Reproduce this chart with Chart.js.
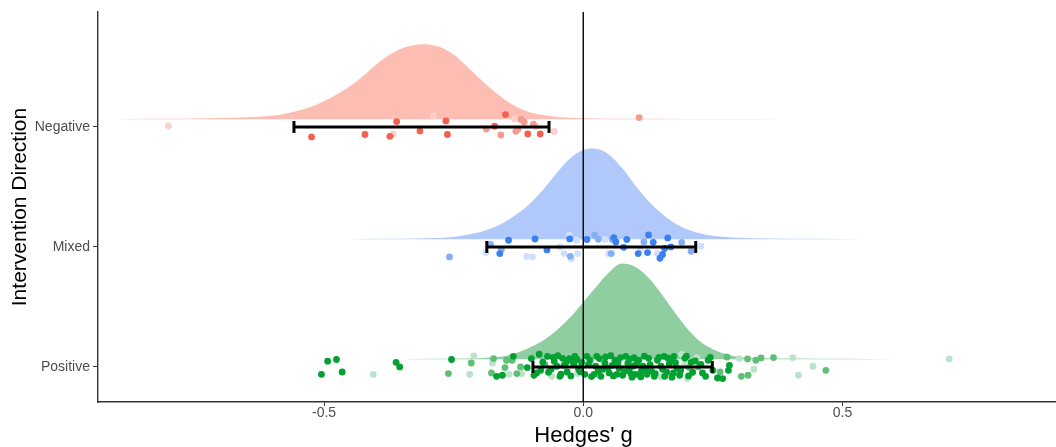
<!DOCTYPE html>
<html>
<head>
<meta charset="utf-8">
<script src="https://cdn.jsdelivr.net/npm/chart.js@4"></script>
<style>
  html, body { margin: 0; padding: 0; background: #ffffff; overflow: hidden; }
  #wrap { width: 1078px; height: 447px; }
  canvas { display: block; }
</style>
</head>
<body>
<div id="wrap"><canvas id="chart" width="1078" height="447"></canvas></div>
<script>
// Groups on the vertical axis (bottom to top): Positive = 1, Mixed = 2, Negative = 3
const categories = ['Positive', 'Mixed', 'Negative'];
const xTickValues = [-0.5, 0, 0.5];

// Density curves of Hedges' g for each group (x, height)
const negDensX = [-0.90, -0.85, -0.80, -0.75, -0.70, -0.65, -0.60, -0.575, -0.55, -0.525, -0.50, -0.475, -0.45, -0.425, -0.40, -0.375, -0.35, -0.325, -0.31, -0.30, -0.275, -0.25, -0.225, -0.20, -0.175, -0.15, -0.125, -0.10, -0.075, -0.05, -0.025, 0.00, 0.05, 0.10, 0.20, 0.30, 0.38];
const negDensH = [0, 0.003, 0.004, 0.006, 0.009, 0.016, 0.029, 0.046, 0.071, 0.104, 0.150, 0.208, 0.275, 0.358, 0.454, 0.533, 0.588, 0.617, 0.625, 0.623, 0.600, 0.538, 0.442, 0.338, 0.242, 0.158, 0.096, 0.054, 0.033, 0.018, 0.011, 0.007, 0.004, 0.003, 0.0015, 0.001, 0];

const mixDensX = [-0.45, -0.40, -0.35, -0.30, -0.25, -0.225, -0.20, -0.175, -0.15, -0.125, -0.10, -0.075, -0.05, -0.025, 0.00, 0.015, 0.025, 0.05, 0.075, 0.10, 0.125, 0.15, 0.175, 0.20, 0.225, 0.25, 0.30, 0.35, 0.45, 0.55];
const mixDensH = [0, 0.0025, 0.004, 0.007, 0.017, 0.0375, 0.058, 0.096, 0.146, 0.217, 0.308, 0.425, 0.558, 0.675, 0.742, 0.756, 0.753, 0.704, 0.592, 0.450, 0.321, 0.217, 0.1375, 0.083, 0.050, 0.029, 0.0125, 0.006, 0.0025, 0];

const posDensX = [-0.35, -0.30, -0.25, -0.20, -0.175, -0.15, -0.125, -0.10, -0.075, -0.05, -0.025, 0.00, 0.025, 0.05, 0.075, 0.10, 0.125, 0.15, 0.175, 0.20, 0.225, 0.25, 0.275, 0.30, 0.35, 0.40, 0.50, 0.60];
const posDensH = [0, 0.0025, 0.005, 0.008, 0.015, 0.027, 0.058, 0.104, 0.1625, 0.246, 0.350, 0.475, 0.604, 0.725, 0.797, 0.771, 0.683, 0.550, 0.400, 0.258, 0.150, 0.083, 0.042, 0.019, 0.008, 0.005, 0.0025, 0];

// Individual effect sizes: [Hedges' g, vertical jitter], split by shading tier
const negStrong = [[-0.524, -0.083], [-0.421, -0.063], [-0.373, -0.078], [-0.360, 0.045], [-0.315, -0.033], [-0.265, 0.050], [-0.262, -0.063], [-0.171, 0.006], [-0.150, 0.103], [-0.107, -0.058], [-0.083, -0.058]];
const negMedium = [[-0.187, -0.017], [-0.159, -0.067], [-0.130, -0.036], [-0.126, -0.019], [-0.120, 0.062], [-0.114, 0.042], [-0.096, 0.023], [0.108, 0.078]];
const negLight = [[-0.800, 0.008], [-0.367, -0.058], [-0.289, 0.092], [-0.132, 0.067], [-0.091, 0.003], [-0.056, -0.038]];

const mixStrong = [[-0.161, -0.055], [-0.144, 0.056], [-0.093, 0.067], [-0.070, -0.025], [-0.026, 0.067], [0.007, 0.062], [0.059, 0.078], [0.063, 0.042], [0.078, -0.003], [0.084, 0.062], [0.106, -0.055], [0.124, -0.047], [0.126, 0.100], [0.135, 0.039], [0.148, -0.094], [0.153, -0.063], [0.157, -0.013], [0.163, 0.075], [0.169, 0]];
const mixMedium = [[-0.258, -0.083], [-0.179, 0.022], [-0.158, -0.022], [-0.025, -0.078], [0.022, 0.098], [0.029, 0.064], [0.054, -0.055], [0.056, 0.062], [0.117, 0.042], [0.190, 0.039], [0.208, -0.036]];
const mixLight = [[-0.188, -0.047], [-0.109, -0.078], [-0.098, -0.083], [-0.045, 0], [-0.037, -0.055], [-0.027, 0.098], [-0.023, -0.100], [-0.013, 0.056], [-0.011, -0.055], [0.042, 0.062], [0.049, -0.055], [0.110, -0.022], [0.143, -0.055], [0.227, 0.006]];

const posStrong = [[-0.493, 0.048], [-0.476, 0.062], [-0.505, -0.061], [-0.465, -0.042], [-0.361, 0.039], [-0.354, 0], [-0.254, 0.062], [-0.167, -0.078], [-0.156, -0.069], [-0.135, 0.089], [-0.108, -0.005], [-0.095, -0.069], [-0.085, 0.106], [-0.069, 0.089], [-0.056, 0.048], [-0.049, 0.095], [-0.045, -0.078], [-0.037, 0.014], [-0.031, -0.042], [-0.027, 0.070], [-0.021, 0.048], [0.007, 0.089], [0.021, -0.061], [0.029, -0.033], [0.043, 0.083], [0.050, -0.050], [0.056, 0.014], [0.065, -0.061], [0.072, 0.078], [0.082, 0.089], [0.088, -0.028], [0.098, 0.078], [0.101, -0.061], [0.092, -0.055], [0.111, -0.083], [0.121, -0.013], [0.137, -0.078], [0.143, 0.056], [0.156, 0.089], [0.166, 0.028], [0.174, -0.050], [0.175, 0.089], [0.236, -0.078], [0.241, 0.056], [0.259, -0.092], [0.269, -0.097], [0.280, -0.028], [0.282, 0.014],
  [-0.082, -0.028], [-0.067, -0.044], [-0.051, 0.006], [-0.040, 0.072], [-0.016, 0.089], [-0.009, -0.019], [0.003, -0.061], [0.013, 0.056], [0.024, 0.006], [0.034, -0.078], [0.042, 0.031], [0.061, 0.056], [0.069, -0.011], [0.076, -0.069], [0.086, 0.031], [0.107, 0.056], [0.115, 0.006], [0.126, 0.072], [0.132, -0.036], [0.150, 0.006], [0.161, -0.044], [0.169, 0.056], [0.181, -0.011], [0.186, -0.069], [0.196, 0.072], [0.211, -0.044], [0.227, 0.022], [0.250, -0.028], [-0.018, 0.022], [0.047, -0.011], [0.096, 0.006], [0.123, -0.061], [0.157, -0.078], [0.208, 0.039], [-0.003, 0.039], [0.026, 0.089],
  [-0.100, 0.070], [-0.090, -0.050], [-0.078, 0.040], [-0.062, -0.020], [-0.058, 0.080], [-0.043, -0.060], [-0.033, 0.040], [-0.024, -0.075], [-0.012, 0.060], [-0.006, -0.040], [0.010, 0.020], [0.016, -0.080], [0.031, 0.070], [0.038, -0.020], [0.053, 0.095], [0.058, -0.075], [0.067, 0.035], [0.079, -0.040], [0.090, 0.065], [0.094, -0.085], [0.103, 0.030], [0.112, -0.035], [0.118, 0.090], [0.129, 0.020], [0.139, -0.055], [0.146, 0.080], [0.153, -0.020], [0.163, 0.075], [0.171, -0.085], [0.178, 0.035], [0.188, -0.030], [0.199, 0.090], [0.203, -0.075], [0.216, 0.050], [0.230, -0.050], [0.245, 0.080]];
const posMedium = [[-0.260, -0.055], [-0.216, 0.033], [-0.173, 0.070], [-0.177, -0.050], [-0.151, -0.005], [-0.148, 0.056], [-0.137, 0.056], [-0.128, -0.055], [-0.121, 0], [-0.074, 0.020], [-0.005, 0], [0.204, -0.005], [0.222, 0], [0.264, -0.042], [0.277, 0.083], [0.305, -0.078], [0.317, 0.067], [0.318, -0.069], [0.333, 0.056], [0.343, 0.075], [0.367, 0.078], [0.468, -0.028]];
const posLight = [[-0.405, -0.061], [-0.211, 0.092], [-0.219, -0.061], [-0.175, 0.033], [-0.143, -0.061], [-0.119, -0.055], [-0.061, -0.078], [-0.011, -0.055], [0.014, 0.028], [0.037, 0.056], [0.150, -0.083], [0.190, 0.106], [0.195, 0.014], [0.201, -0.097], [0.219, 0.078], [0.301, 0.070], [0.329, -0.019], [0.404, 0.078], [0.415, -0.069], [0.443, 0.006], [0.706, 0.067]];

// Interval per group (Positive, Mixed, Negative)
const ciLow = [-0.097, -0.186, -0.558];
const ciHigh = [0.249, 0.217, -0.066];

// ---- drawing setup ----
const Y_MIN = 0.708, Y_MAX = 3.958;
const X_MIN = -0.936, X_MAX = 0.937;
const CLOUD_LIFT = 0.065;
const FONT = "'Liberation Sans', Arial, Helvetica, sans-serif";

const palette = {
  Negative: { cloud: '#FDBDB3', strong: '#F2604F', medium: '#F6998E', light: '#FBD0CA' },
  Mixed:    { cloud: '#B1C9FA', strong: '#3B80F0', medium: '#86AEF5', light: '#D0DFFB' },
  Positive: { cloud: '#8FCEA0', strong: '#03A032', medium: '#5EBF75', light: '#BBE3C5' }
};

function cloudSet(xs, hs, center, color) {
  const base = center + CLOUD_LIFT;
  return {
    type: 'line',
    data: xs.map((x, i) => ({ x: x, y: base + hs[i] })),
    fill: { value: base },
    backgroundColor: color,
    borderColor: 'rgba(0,0,0,0)',
    borderWidth: 0,
    pointRadius: 0,
    cubicInterpolationMode: 'monotone',
    order: 30
  };
}

function pointSet(pairs, center, color, order) {
  return {
    type: 'scatter',
    data: pairs.map(p => ({ x: p[0], y: center + p[1] })),
    backgroundColor: color,
    borderWidth: 0,
    pointRadius: 3.4,
    pointHoverRadius: 3.4,
    order: order
  };
}

function intervalSet(i) {
  const c = i + 1;
  return {
    type: 'line',
    data: [{ x: ciLow[i], y: c }, { x: ciHigh[i], y: c }],
    borderColor: '#000000',
    borderWidth: 3,
    pointStyle: 'line',
    pointRotation: 90,
    pointRadius: 6,
    pointBorderWidth: 3,
    pointBorderColor: '#000000',
    order: 1
  };
}

const datasets = [];
const groups = [
  { name: 'Positive', c: 1, dx: posDensX, dh: posDensH, s: posStrong, m: posMedium, l: posLight },
  { name: 'Mixed', c: 2, dx: mixDensX, dh: mixDensH, s: mixStrong, m: mixMedium, l: mixLight },
  { name: 'Negative', c: 3, dx: negDensX, dh: negDensH, s: negStrong, m: negMedium, l: negLight }
];
groups.forEach(g => {
  const col = palette[g.name];
  datasets.push(cloudSet(g.dx, g.dh, g.c, col.cloud));
  datasets.push(pointSet(g.l, g.c, col.light, 12));
  datasets.push(pointSet(g.m, g.c, col.medium, 11));
  datasets.push(pointSet(g.s, g.c, col.strong, 10));
});
// reference line at g = 0
datasets.push({
  type: 'line',
  data: [{ x: 0, y: Y_MIN }, { x: 0, y: Y_MAX }],
  borderColor: '#000000',
  borderWidth: 1.4,
  pointRadius: 0,
  order: 3
});
[0, 1, 2].forEach(i => datasets.push(intervalSet(i)));

new Chart(document.getElementById('chart'), {
  type: 'scatter',
  data: { datasets: datasets },
  options: {
    responsive: false,
    animation: false,
    events: [],
    layout: { padding: { top: 12, left: 0, right: 0, bottom: 0 } },
    plugins: { legend: { display: false }, tooltip: { enabled: false } },
    scales: {
      x: {
        type: 'linear',
        min: X_MIN,
        max: X_MAX,
        afterBuildTicks: s => { s.ticks = xTickValues.map(v => ({ value: v })); },
        afterFit: s => { s.height = 45; },
        ticks: {
          callback: v => v.toFixed(1),
          color: '#4D4D4D',
          font: { family: FONT, size: 14, lineHeight: 1 },
          padding: 0.5,
          maxRotation: 0
        },
        grid: { drawOnChartArea: false, drawTicks: true, tickLength: 4, color: '#333333', tickWidth: 1 },
        border: { display: true, color: '#333333', width: 1.4 },
        title: {
          display: true,
          text: "Hedges' g",
          color: '#000000',
          font: { family: FONT, size: 22, lineHeight: 1 },
          padding: { top: 0, bottom: 0 }
        }
      },
      y: {
        type: 'linear',
        min: Y_MIN,
        max: Y_MAX,
        afterBuildTicks: s => { s.ticks = [1, 2, 3].map(v => ({ value: v })); },
        afterFit: s => { s.width = 98; },
        ticks: {
          callback: v => categories[Math.round(v) - 1],
          color: '#4D4D4D',
          font: { family: FONT, size: 14 },
          padding: 3
        },
        grid: { drawOnChartArea: false, drawTicks: true, tickLength: 5, color: '#333333', tickWidth: 1 },
        border: { display: true, color: '#333333', width: 1.4 },
        title: {
          display: true,
          text: 'Intervention Direction',
          color: '#000000',
          font: { family: FONT, size: 21, lineHeight: 1.2 },
          padding: { top: 8, bottom: 0 }
        }
      }
    }
  }
});
</script>
</body>
</html>
